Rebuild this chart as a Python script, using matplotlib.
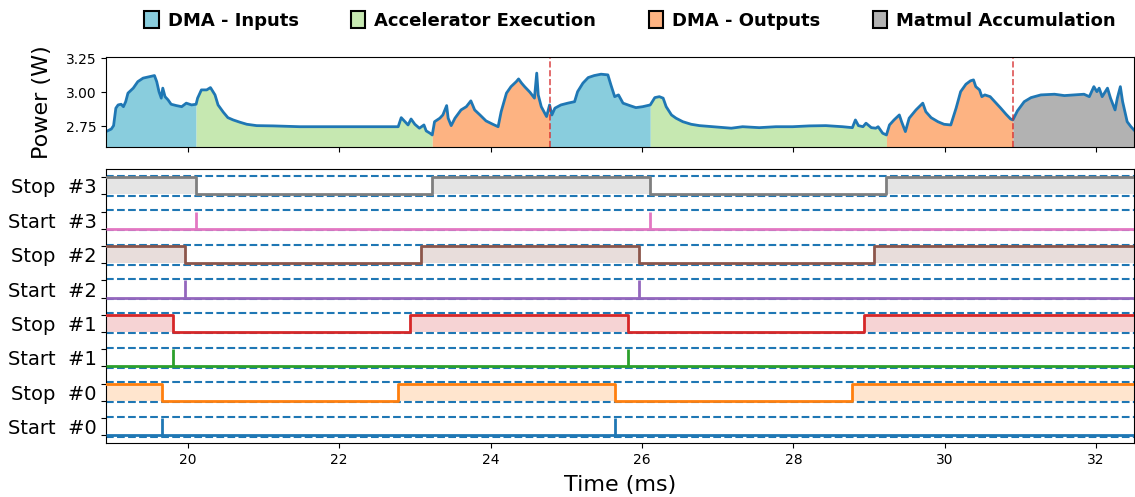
import matplotlib
matplotlib.use('Agg')
import matplotlib.pyplot as plt
from matplotlib.patches import Patch
import numpy as np

# power trace (ms, W)
power_t = [18.92, 18.99, 19.02, 19.05, 19.08, 19.12, 19.15, 19.18, 19.21, 19.28,
           19.34, 19.41, 19.48, 19.56, 19.59, 19.62, 19.65, 19.67, 19.70, 19.74,
           19.78, 19.85, 19.92, 19.98, 20.05, 20.11, 20.13, 20.18, 20.25, 20.30,
           20.36, 20.40, 20.47, 20.53, 20.60, 20.69, 20.78, 20.91, 21.13, 21.48,
           21.91, 22.27, 22.78, 22.82, 22.87, 22.91, 22.95, 23.00, 23.06, 23.12,
           23.15, 23.20, 23.23, 23.26, 23.33, 23.37, 23.42, 23.44, 23.48, 23.53,
           23.61, 23.68, 23.74, 23.79, 23.86, 23.94, 24.03, 24.10, 24.14, 24.21,
           24.27, 24.34, 24.37, 24.41, 24.45, 24.52, 24.58, 24.61, 24.63, 24.67,
           24.74, 24.78, 24.81, 24.85, 24.93, 25.02, 25.11, 25.15, 25.22, 25.29,
           25.37, 25.46, 25.55, 25.59, 25.64, 25.69, 25.75, 25.84, 25.92, 26.01,
           26.11, 26.17, 26.23, 26.28, 26.32, 26.39, 26.45, 26.54, 26.65, 26.76,
           26.94, 27.18, 27.33, 27.55, 27.77, 27.99, 28.21, 28.43, 28.65, 28.78,
           28.82, 28.86, 28.92, 28.96, 29.03, 29.09, 29.12, 29.18, 29.23, 29.27,
           29.33, 29.40, 29.43, 29.48, 29.53, 29.62, 29.71, 29.75, 29.82, 29.91,
           29.99, 30.08, 30.15, 30.21, 30.28, 30.34, 30.38, 30.41, 30.46, 30.49,
           30.53, 30.60, 30.68, 30.74, 30.81, 30.87, 30.90, 30.96, 31.05, 31.14,
           31.27, 31.45, 31.58, 31.71, 31.84, 31.91, 31.97, 32.01, 32.04, 32.08,
           32.15, 32.19, 32.25, 32.28, 32.32, 32.35, 32.41, 32.46, 32.50]
power_w = [2.709, 2.728, 2.753, 2.882, 2.906, 2.911, 2.893, 2.930, 2.993, 3.030,
           3.078, 3.104, 3.113, 3.123, 3.078, 3.004, 2.956, 3.030, 2.967, 2.943,
           2.911, 2.901, 2.893, 2.919, 2.906, 2.911, 2.956, 3.017, 3.017, 3.034,
           2.980, 2.906, 2.852, 2.812, 2.795, 2.778, 2.763, 2.753, 2.751, 2.745,
           2.745, 2.745, 2.745, 2.812, 2.782, 2.758, 2.802, 2.763, 2.734, 2.758,
           2.714, 2.697, 2.684, 2.782, 2.808, 2.832, 2.901, 2.808, 2.753, 2.808,
           2.869, 2.893, 2.936, 2.869, 2.832, 2.788, 2.763, 2.745, 2.856, 2.993,
           3.041, 3.078, 3.098, 3.067, 3.041, 3.000, 2.956, 3.141, 2.980, 2.893,
           2.820, 2.906, 2.832, 2.882, 2.906, 2.919, 2.930, 3.004, 3.067, 3.108,
           3.123, 3.133, 3.128, 3.054, 2.967, 2.980, 2.919, 2.901, 2.886, 2.893,
           2.906, 2.960, 2.967, 2.956, 2.893, 2.832, 2.808, 2.782, 2.763, 2.753,
           2.745, 2.734, 2.745, 2.738, 2.745, 2.745, 2.751, 2.753, 2.745, 2.738,
           2.795, 2.753, 2.745, 2.771, 2.738, 2.734, 2.745, 2.697, 2.684, 2.758,
           2.795, 2.832, 2.782, 2.709, 2.808, 2.869, 2.919, 2.856, 2.812, 2.782,
           2.763, 2.758, 2.882, 3.004, 3.059, 3.084, 3.091, 3.041, 3.017, 2.967,
           2.980, 2.967, 2.919, 2.882, 2.837, 2.802, 2.795, 2.862, 2.930, 2.960,
           2.980, 2.985, 2.975, 2.980, 2.985, 2.967, 3.041, 3.004, 3.030, 2.967,
           3.030, 2.956, 2.869, 2.956, 3.041, 2.930, 2.782, 2.745, 2.721]

# execution phases
phase_bounds = [18.92, 20.11, 23.23, 24.78, 26.11, 29.23, 30.90, 32.50]
phase_kind = ['in', 'exec', 'out', 'in', 'exec', 'out', 'acc']
phase_names = {'in': 'DMA - Inputs', 'exec': 'Accelerator Execution',
               'out': 'DMA - Outputs', 'acc': 'Matmul Accumulation'}
phase_colors = {'in': '#89cddd', 'exec': '#c6e8b1', 'out': '#fdb382', 'acc': '#b2b2b2'}
marker_times = [24.78, 30.90]

# start pulses and stop toggles per unit (stop starts high)
start_times = [[19.66, 25.65], [19.81, 25.81], [19.96, 25.96], [20.11, 26.11]]
stop_times = [[19.66, 22.78, 25.65, 28.78],
              [19.81, 22.93, 25.81, 28.93],
              [19.96, 23.08, 25.96, 29.07],
              [20.11, 23.23, 26.11, 29.23]]

xmin, xmax = 18.92, 32.50

fig = plt.figure(figsize=(11.35, 4.97), dpi=100)
ax1 = fig.add_axes([0.0934, 0.7042, 0.9057, 0.1811])
ax2 = fig.add_axes([0.0934, 0.1087, 0.9057, 0.5513], sharex=ax1)

# --- power
t = np.array(power_t)
p = np.array(power_w)
for i, kind in enumerate(phase_kind):
    a, b = phase_bounds[i], phase_bounds[i + 1]
    ax1.fill_between(t, 2.5, p, where=(t >= a) & (t <= b),
                     color=phase_colors[kind], linewidth=0)
ax1.plot(t, p, color='C0', linewidth=2)
for m in marker_times:
    ax1.axvline(m, color='C3', linestyle='--', linewidth=1.2, alpha=0.8)

ax1.set_ylim(2.595, 3.26)
ax1.set_yticks([2.75, 3.0, 3.25])
ax1.set_ylabel('Power (W)', fontsize=16, labelpad=10)
ax1.tick_params(axis='x', labelbottom=False)

handles = [Patch(facecolor=phase_colors[k], edgecolor='black', linewidth=1.5,
                 label=phase_names[k]) for k in ['in', 'exec', 'out', 'acc']]
ax1.legend(handles=handles, loc='center', bbox_to_anchor=(0.5097, 1.41), ncol=4,
           frameon=False, prop={'weight': 'bold', 'size': 13},
           handlelength=0.8, handleheight=1.1, columnspacing=2.9, handletextpad=0.5)

# --- start / stop signals
labels = []
label_pos = []
levels = []
for k in range(4):
    off = 4 * k
    # start
    c = 'C%d' % (2 * k)
    ax2.hlines(off, xmin, xmax, color=c, linewidth=2, zorder=3)
    ax2.vlines(start_times[k], off, off + 1, color=c, linewidth=2, zorder=3)
    labels.append('Start  #%d' % k)
    label_pos.append(off + 0.5)
    levels += [off, off + 1]

    # stop
    off = 4 * k + 2
    c = 'C%d' % (2 * k + 1)
    xs = [xmin] + stop_times[k] + [xmax]
    ys = [(j + 1) % 2 for j in range(len(xs) - 1)]
    ys = ys + [ys[-1]]
    ys = off + np.array(ys)
    ax2.step(xs, ys, where='post', color=c, linewidth=2, zorder=3)
    ax2.fill_between(xs, off, ys, step='post', color=c, alpha=0.2, linewidth=0)
    labels.append('Stop  #%d' % k)
    label_pos.append(off + 0.5)
    levels += [off, off + 1]

for k in range(8):
    off = 2 * k
    ax2.axhline(off - 0.08, color='C0', linestyle='--', linewidth=1.5, zorder=2)
    ax2.axhline(off + 1.08, color='C0', linestyle='--', linewidth=1.5, zorder=2)

ax2.set_yticks(levels)
ax2.set_yticklabels([''] * len(levels))
ax2.set_yticks(label_pos, minor=True)
ax2.set_yticklabels(labels, minor=True, fontsize=14)
ax2.tick_params(axis='y', which='minor', length=0, pad=6.5)
ax2.set_ylim(-0.45, 15.48)

ax2.set_xlim(xmin, xmax)
ax2.set_xticks(np.arange(20, 33, 2))
ax2.set_xlabel('Time (ms)', fontsize=16, labelpad=6)

fig.savefig('out.png', dpi=100)
